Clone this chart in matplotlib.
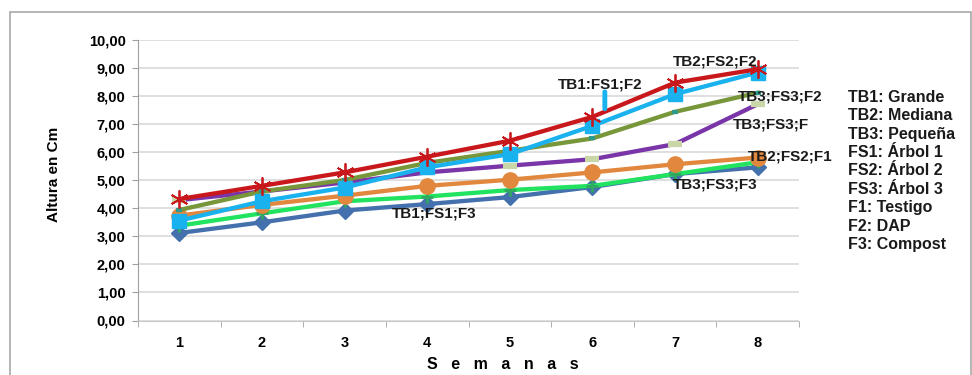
import matplotlib
matplotlib.use("Agg")
import matplotlib.pyplot as plt
from matplotlib.patches import Rectangle

plt.rcParams['font.family'] = ['Liberation Sans', 'DejaVu Sans']
plt.rcParams['font.weight'] = 'bold'

semanas = [1, 2, 3, 4, 5, 6, 7, 8]
week_labels = ['1', '2', '3', '4', '5', '6', '7', '8']

tb1_fs1_f3 = [3.12, 3.50, 3.92, 4.15, 4.40, 4.76, 5.22, 5.46]
tb3_fs3_f3 = [3.38, 3.82, 4.25, 4.42, 4.65, 4.80, 5.22, 5.64]
tb2_fs2_f1 = [3.74, 4.12, 4.45, 4.80, 5.02, 5.28, 5.57, 5.81]
tb3_fs3_f1 = [4.29, 4.60, 4.92, 5.28, 5.52, 5.75, 6.29, 7.71]
tb3_fs3_f2 = [3.94, 4.60, 5.01, 5.62, 6.05, 6.49, 7.44, 8.12]
tb1_fs1_f2 = [3.56, 4.25, 4.74, 5.46, 5.93, 6.94, 8.07, 8.84]
tb2_fs2_f2 = [4.33, 4.80, 5.28, 5.84, 6.41, 7.26, 8.48, 8.96]

yticks = [0, 1, 2, 3, 4, 5, 6, 7, 8, 9, 10]
ytick_labels = ['0,00', '1,00', '2,00', '3,00', '4,00', '5,00', '6,00',
                '7,00', '8,00', '9,00', '10,00']

legend_lines = ['TB1: Grande', 'TB2: Mediana', 'TB3: Pequeña', 'FS1: Árbol 1',
                'FS2: Árbol 2', 'FS3: Árbol 3', 'F1: Testigo', 'F2: DAP', 'F3: Compost']

W, H = 972, 375
fig = plt.figure(figsize=(W / 100, H / 100), dpi=100)
ax = fig.add_axes([138 / W, 1 - 320.5 / H, (799 - 138) / W, (320.5 - 40) / H])

lw = 3.1
ax.plot(semanas, tb1_fs1_f3, color='#4470ad', lw=lw, marker='D', ms=8, zorder=3)
ax.plot(semanas, tb3_fs3_f3, color='#22e35f', lw=lw, marker='+', ms=9, mew=2, mec='#2fa860', zorder=3)
ax.plot(semanas, tb2_fs2_f1, color='#e2883e', lw=lw, marker='o', ms=11, zorder=3)
ax.plot(semanas, tb3_fs3_f1, color='#7a35a8', lw=lw, marker='_', ms=10, mew=4.5, mec='#c9d6a8', zorder=3)
ax.plot(semanas, tb3_fs3_f2, color='#78963a', lw=lw, marker='_', ms=5, mew=3, mec='#2b9a8a', zorder=3)
ax.plot(semanas, tb1_fs1_f2, color='#19b2ee', lw=lw, marker='s', ms=10, zorder=4)
ax.plot(semanas, tb2_fs2_f2, color='#c8181c', lw=lw, marker=(6, 2, 0), ms=13, mew=1.3, zorder=4)

ax.set_xlim(0.5, 8.5)
ax.set_ylim(0, 10)
ax.set_yticks(yticks)
ax.set_yticklabels(ytick_labels, fontsize=10.5, fontweight='bold')
ax.set_xticks(semanas)
ax.set_xticklabels(week_labels, fontsize=10.5, fontweight='bold')
ax.set_xticks([s + 0.5 for s in [0] + semanas], minor=True)
ax.tick_params(axis='x', which='major', length=0, pad=11)
ax.tick_params(axis='x', which='minor', length=4, color='#a0a0a0', direction='out')
ax.tick_params(axis='y', length=4, color='#a0a0a0', pad=5)
ax.grid(axis='y', color='#d9d9d9', lw=1.2)
ax.set_axisbelow(True)
for s in ['top', 'right']:
    ax.spines[s].set_visible(False)
ax.spines['left'].set_color('#a0a0a0')
ax.spines['bottom'].set_color('#c8c8c8')

ax.set_ylabel('Altura en Cm', fontsize=11, fontweight='bold')
ax.yaxis.set_label_coords((61 - 138) / 661, (320.5 - 174) / 280.5)
ax.set_xlabel('S   e   m   a   n   a   s', fontsize=11.5, fontweight='bold')
ax.xaxis.set_label_coords((503 - 138) / 661, -(357 - 320.5) / 280.5)

tk = dict(fontsize=11, fontweight='bold', color='#1a1a1a', zorder=6, clip_on=False)
ax.text(7.48, 9.22, 'TB2;FS2;F2', ha='center', va='center', **tk)
ax.text(6.09, 8.40, 'TB1:FS1;F2', ha='center', va='center', **tk)
ax.text(7.76, 8.00, 'TB3;FS3;F2', ha='left', va='center', **tk)
ax.text(7.70, 6.98, 'TB3;FS3;F', ha='left', va='center', **tk)
ax.text(7.88, 5.83, 'TB2;FS2;F1', ha='left', va='center', **tk)
ax.text(7.48, 4.85, 'TB3;FS3;F3', ha='center', va='center', **tk)
ax.text(4.09, 3.80, 'TB1;FS1;F3', ha='center', va='center', **tk)
ax.annotate('', xy=(6.15, 7.45), xytext=(6.15, 8.25),
            arrowprops=dict(arrowstyle='-', color='#19b2ee', lw=3.5), zorder=5)

fig.text(848 / W, 1 - 90 / H, '\n'.join(legend_lines), ha='left', va='top',
         fontsize=11.5, fontweight='bold', color='#1a1a1a', linespacing=1.28)

fig.add_artist(Rectangle((10 / W, -0.1), (971 - 10) / W, 1.1 - 12 / H,
                         transform=fig.transFigure, fill=False,
                         edgecolor='#a8a8a8', lw=1.2, clip_on=False))

fig.savefig('out.png', dpi=100)
